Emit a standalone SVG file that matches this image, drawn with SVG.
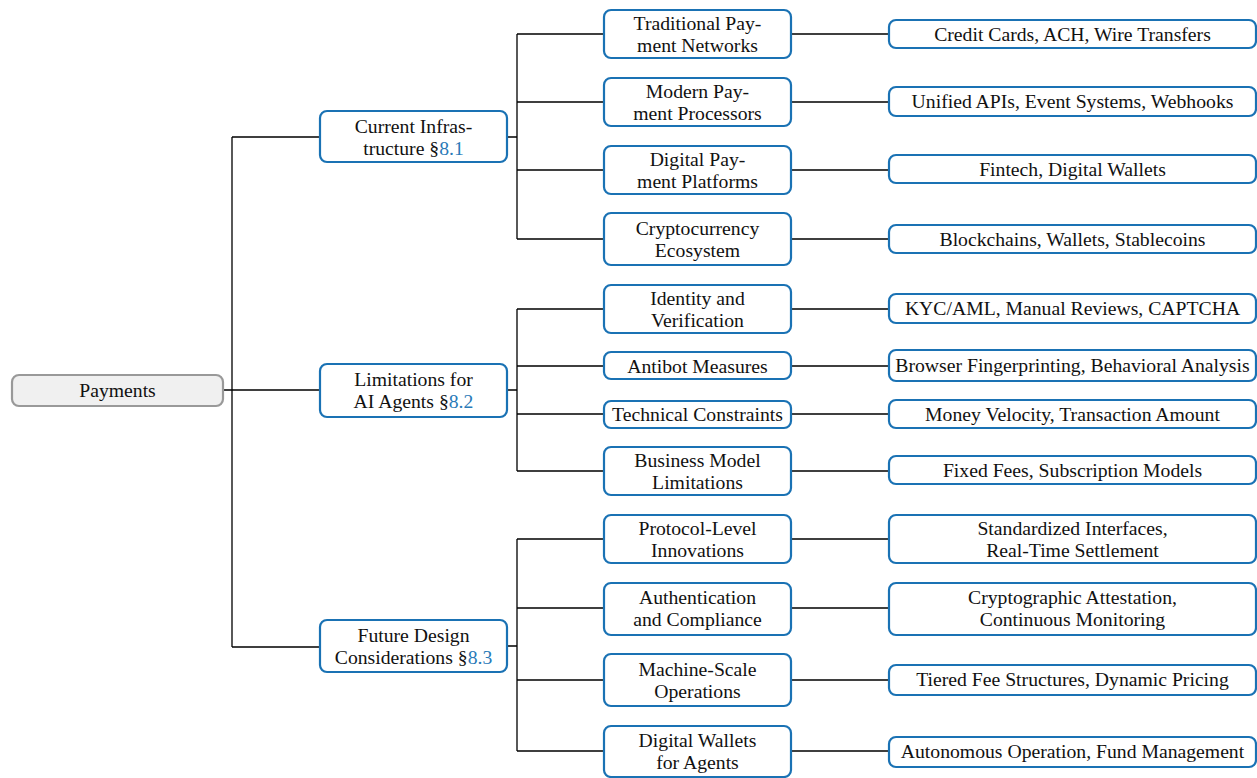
<svg xmlns="http://www.w3.org/2000/svg" width="1257" height="778" viewBox="0 0 1257 778">
<style>
.t{font-family:"Liberation Serif","Times New Roman",serif;font-size:19.7px;fill:#111;text-anchor:middle}
.n{fill:#fff;stroke:#1a72b4;stroke-width:2.2}
.r{fill:#f0f0f0;stroke:#999;stroke-width:2.2}
.c{fill:none;stroke:#000;stroke-width:1.3}
.l{fill:#2a7ab8}
</style>
<rect width="1257" height="778" fill="#fff"/>
<g id="connectors" class="c">
<path d="M223 390H232M232 137V647M232 137H320M232 390H320M232 647H320"/>
<path d="M507 137H517M517 34V239M517 34H604M517 102H604M517 170H604M517 239H604"/>
<path d="M507 390H517M517 309V471M517 309H604M517 366H604M517 414H604M517 471H604"/>
<path d="M507 646H517M517 539V751M517 539H604M517 608H604M517 680H604M517 751H604"/>
<path d="M791 34H889M791 102H889M791 170H889M791 239H889M791 309H889M791 366H889M791 414H889M791 471H889M791 539H889M791 608H889M791 680H889M791 751H889"/>
</g>
<g id="root"><rect class="r" x="12" y="375" width="211" height="31" rx="7"/><text class="t" x="117.5" y="397">Payments</text></g>
<g id="l1a"><rect class="n" x="320" y="111" width="187" height="51" rx="7"/><text class="t" x="413.5" y="132.5">Current Infras-</text><text class="t" x="413.5" y="154.5">tructure §<tspan class="l">8.1</tspan></text></g>
<g id="l1b"><rect class="n" x="320" y="364" width="187" height="53" rx="7"/><text class="t" x="413.5" y="386">Limitations for</text><text class="t" x="413.5" y="408">AI Agents §<tspan class="l">8.2</tspan></text></g>
<g id="l1c"><rect class="n" x="320" y="620" width="187" height="52" rx="7"/><text class="t" x="413.5" y="642">Future Design</text><text class="t" x="413.5" y="664">Considerations §<tspan class="l">8.3</tspan></text></g>

<g id="l2a"><rect class="n" x="604" y="10" width="187" height="48" rx="7"/><text class="t" x="697.5" y="30">Traditional Pay-</text><text class="t" x="697.5" y="52">ment Networks</text></g>
<g id="l2b"><rect class="n" x="604" y="78" width="187" height="48" rx="7"/><text class="t" x="697.5" y="98">Modern Pay-</text><text class="t" x="697.5" y="120">ment Processors</text></g>
<g id="l2c"><rect class="n" x="604" y="146" width="187" height="48" rx="7"/><text class="t" x="697.5" y="166">Digital Pay-</text><text class="t" x="697.5" y="188">ment Platforms</text></g>
<g id="l2d"><rect class="n" x="604" y="213" width="187" height="52" rx="7"/><text class="t" x="697.5" y="235">Cryptocurrency</text><text class="t" x="697.5" y="257">Ecosystem</text></g>
<g id="l2e"><rect class="n" x="604" y="285" width="187" height="48" rx="7"/><text class="t" x="697.5" y="305">Identity and</text><text class="t" x="697.5" y="327">Verification</text></g>
<g id="l2f"><rect class="n" x="604" y="352" width="187" height="27" rx="7"/><text class="t" x="697.5" y="372.5">Antibot Measures</text></g>
<g id="l2g"><rect class="n" x="604" y="401" width="187" height="27" rx="7"/><text class="t" x="697.5" y="421">Technical Constraints</text></g>
<g id="l2h"><rect class="n" x="604" y="447" width="187" height="48" rx="7"/><text class="t" x="697.5" y="467">Business Model</text><text class="t" x="697.5" y="489">Limitations</text></g>
<g id="l2i"><rect class="n" x="604" y="515" width="187" height="48" rx="7"/><text class="t" x="697.5" y="535">Protocol-Level</text><text class="t" x="697.5" y="557">Innovations</text></g>
<g id="l2j"><rect class="n" x="604" y="583" width="187" height="52" rx="7"/><text class="t" x="697.5" y="604">Authentication</text><text class="t" x="697.5" y="626">and Compliance</text></g>
<g id="l2k"><rect class="n" x="604" y="654" width="187" height="52" rx="7"/><text class="t" x="697.5" y="676">Machine-Scale</text><text class="t" x="697.5" y="698">Operations</text></g>
<g id="l2l"><rect class="n" x="604" y="726" width="187" height="51" rx="7"/><text class="t" x="697.5" y="747">Digital Wallets</text><text class="t" x="697.5" y="769">for Agents</text></g>

<g id="l3a"><rect class="n" x="889" y="20" width="367" height="28" rx="7"/><text class="t" x="1072.5" y="40.5">Credit Cards, ACH, Wire Transfers</text></g>
<g id="l3b"><rect class="n" x="889" y="87" width="367" height="29" rx="7"/><text class="t" x="1072.5" y="108">Unified APIs, Event Systems, Webhooks</text></g>
<g id="l3c"><rect class="n" x="889" y="155" width="367" height="28" rx="7"/><text class="t" x="1072.5" y="175.5">Fintech, Digital Wallets</text></g>
<g id="l3d"><rect class="n" x="889" y="225" width="367" height="28" rx="7"/><text class="t" x="1072.5" y="245.5">Blockchains, Wallets, Stablecoins</text></g>
<g id="l3e"><rect class="n" x="889" y="294" width="367" height="29" rx="7"/><text class="t" x="1072.5" y="315">KYC/AML, Manual Reviews, CAPTCHA</text></g>
<g id="l3f"><rect class="n" x="889" y="350" width="367" height="31" rx="7"/><text class="t" x="1072.5" y="372">Browser Fingerprinting, Behavioral Analysis</text></g>
<g id="l3g"><rect class="n" x="889" y="400" width="367" height="28" rx="7"/><text class="t" x="1072.5" y="420.5">Money Velocity, Transaction Amount</text></g>
<g id="l3h"><rect class="n" x="889" y="456" width="367" height="28" rx="7"/><text class="t" x="1072.5" y="476.5">Fixed Fees, Subscription Models</text></g>
<g id="l3i"><rect class="n" x="889" y="515" width="367" height="48" rx="7"/><text class="t" x="1072.5" y="535">Standardized Interfaces,</text><text class="t" x="1072.5" y="557">Real-Time Settlement</text></g>
<g id="l3j"><rect class="n" x="889" y="583" width="367" height="52" rx="7"/><text class="t" x="1072.5" y="604">Cryptographic Attestation,</text><text class="t" x="1072.5" y="626">Continuous Monitoring</text></g>
<g id="l3k"><rect class="n" x="889" y="665" width="367" height="30" rx="7"/><text class="t" x="1072.5" y="686">Tiered Fee Structures, Dynamic Pricing</text></g>
<g id="l3l"><rect class="n" x="889" y="737" width="367" height="30" rx="7"/><text class="t" x="1072.5" y="758">Autonomous Operation, Fund Management</text></g>
</svg>
